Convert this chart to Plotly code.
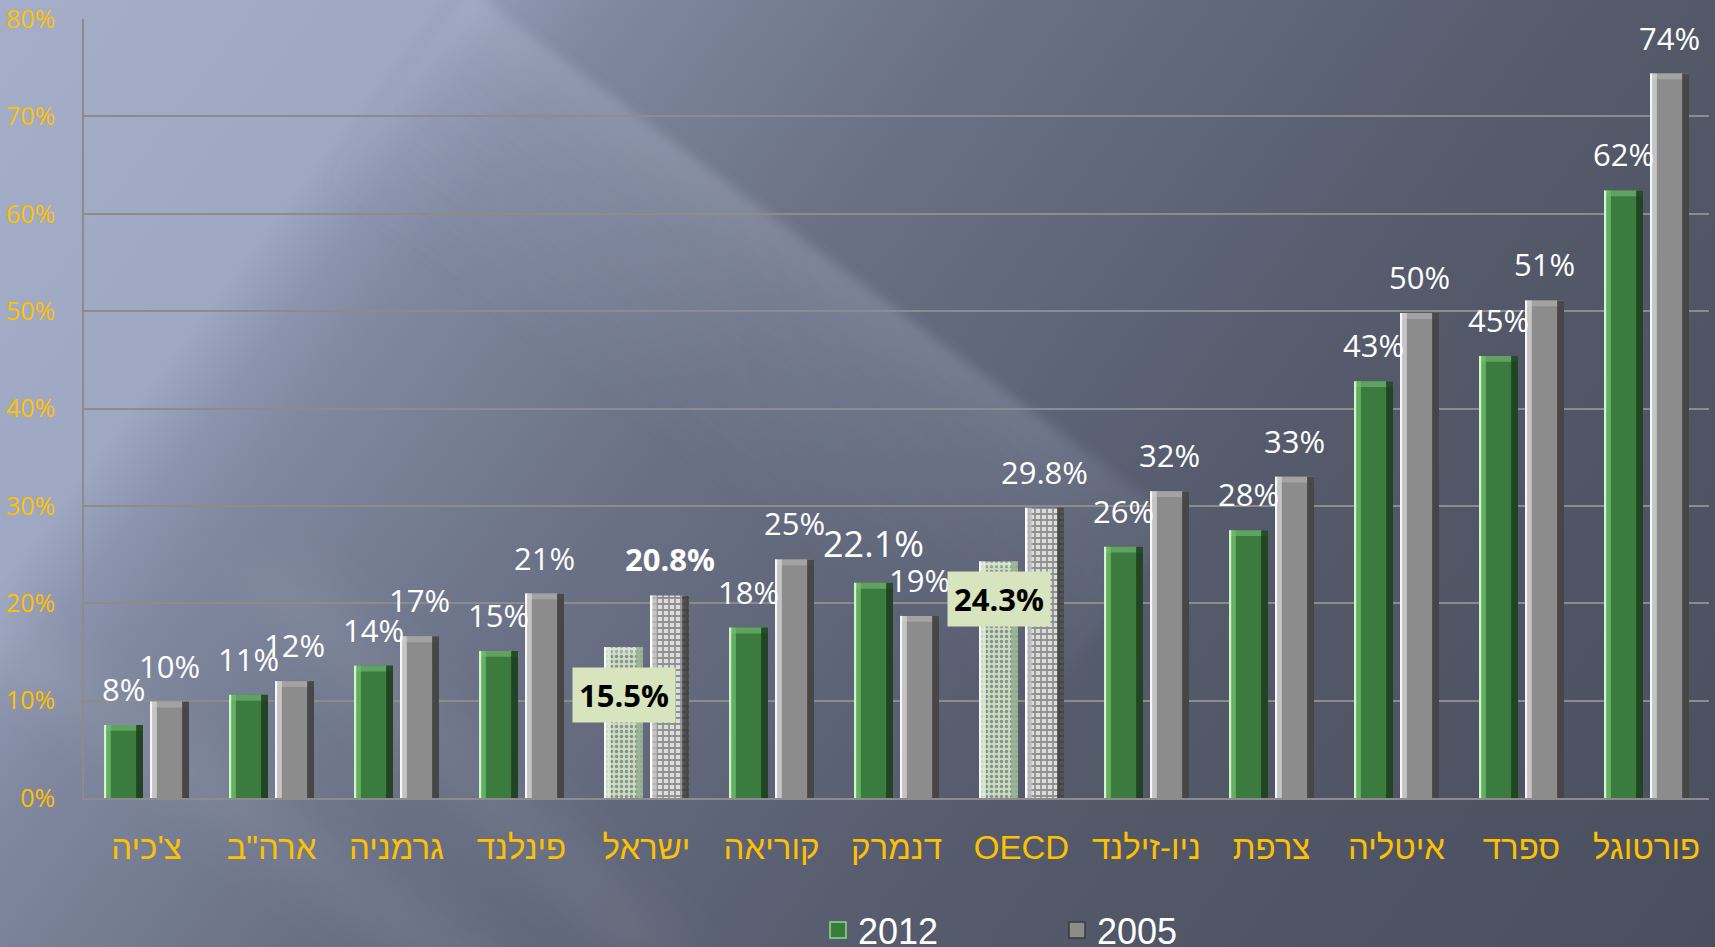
import base64
import plotly.graph_objects as go

# ---------------- data ----------------
categories = ["צ'כיה", 'ארה"ב', "גרמניה", "פינלנד", "ישראל", "קוריאה", "דנמרק",
              "OECD", "ניו-זילנד", "צרפת", "איטליה", "ספרד", "פורטוגל"]
series_names = ["2012", "2005"]
values_2012 = [7.5, 10.6, 13.6, 15.1, 15.5, 17.5, 22.1, 24.3, 25.8, 27.5, 42.8, 45.4, 62.4]
values_2005 = [9.9, 12.0, 16.6, 21.0, 20.8, 24.5, 18.7, 29.8, 31.5, 33.0, 49.8, 51.1, 74.4]
labels_2012 = ["8%", "11%", "14%", "15%", "15.5%", "18%", "22.1%", "24.3%", "26%", "28%", "43%", "45%", "62%"]
labels_2005 = ["10%", "12%", "17%", "21%", "20.8%", "25%", "19%", "29.8%", "32%", "33%", "50%", "51%", "74%"]
highlight = ["ישראל", "OECD"]
bold_2005 = ["ישראל"]
big_2012 = ["דנמרק"]
y_ticks = [0, 10, 20, 30, 40, 50, 60, 70, 80]
y_ticktext = [f"{v}%" for v in y_ticks]

# ---------------- geometry / style ----------------
W, H = 1715, 947
ML, MR, MT, MB = 84, 6, 19, 149
PW, PH = W - ML - MR, H - MT - MB
CAT_PX = PW / len(categories)
BAR_W = 0.312
OFF = {"2012": -0.34, "2005": 0.028}
BEVEL = 0.6  # top bevel height in axis units

n = len(categories)
is_hl = [c in highlight for c in categories]

styles = {
    "2012": dict(
        main=["#C9DCC3" if h else "#3B7C3E" for h in is_hl],
        fg=["#9DBB97" if h else "#3B7C3E" for h in is_hl],
        shape=["." if h else "" for h in is_hl],
        edge1=["#F4FAF2" if h else "#CFF5C8" for h in is_hl],
        edge2=["#DDEBD8" if h else "#6DBE6B" for h in is_hl],
        right=["#97AE92" if h else "#1D3C1F" for h in is_hl],
        top=["rgba(255,255,255,0.25)" if h else "#5FA261" for h in is_hl],
        psize=5, psol=0.35, legend="#3B7C3E", legend_line="#8FD98C",
    ),
    "2005": dict(
        main=["#DCDCDC" if h else "#8C8C8C" for h in is_hl],
        fg=["#2A2A2A" if h else "#8C8C8C" for h in is_hl],
        shape=["+" if h else "" for h in is_hl],
        edge1=["#FFFFFF" if h else "#F7F7F7" for h in is_hl],
        edge2=["#BFBFBF" if h else "#D2D2D2" for h in is_hl],
        right=["#3A3A3A" if h else "#3A3A3A" for h in is_hl],
        top=["rgba(0,0,0,0)" if h else "#A3A3A3" for h in is_hl],
        psize=6, psol=0.5, legend="#8C8C8C", legend_line="#3A3A3A",
    ),
}

fig = go.Figure()

for name, vals in zip(series_names, [values_2012, values_2005]):
    st = styles[name]
    off = OFF[name]
    fig.add_trace(go.Bar(
        x=categories, y=vals, name=name, offset=off, width=BAR_W, showlegend=False,
        marker=dict(color=st["main"], line=dict(width=0),
                    pattern=dict(shape=st["shape"], fgcolor=st["fg"], size=st["psize"],
                                 solidity=st["psol"], fillmode="overlay")),
        hoverinfo="skip"))
    # top bevel
    fig.add_trace(go.Bar(
        x=categories, y=[BEVEL] * n, base=[v - BEVEL for v in vals], offset=off, width=BAR_W,
        marker=dict(color=st["top"], line=dict(width=0)), showlegend=False, hoverinfo="skip"))
    # left highlights
    fig.add_trace(go.Bar(
        x=categories, y=vals, offset=off, width=0.02,
        marker=dict(color=st["edge1"], line=dict(width=0)), showlegend=False, hoverinfo="skip"))
    fig.add_trace(go.Bar(
        x=categories, y=vals, offset=off + 0.02, width=0.035,
        marker=dict(color=st["edge2"], line=dict(width=0)), opacity=0.8, showlegend=False, hoverinfo="skip"))
    # right shadow
    fig.add_trace(go.Bar(
        x=categories, y=vals, offset=off + BAR_W - 0.055, width=0.055,
        marker=dict(color=st["right"], line=dict(width=0)), opacity=0.85, showlegend=False, hoverinfo="skip"))

# legend entries (square swatches)
for name in series_names:
    st = styles[name]
    fig.add_trace(go.Scatter(
        x=[None], y=[None], mode="markers", name=name, showlegend=True, hoverinfo="skip",
        marker=dict(symbol="square", size=20, color=st["legend"],
                    line=dict(color=st["legend_line"], width=1.5))))

# ---------------- labels ----------------
annotations = []
LABEL_FONT = "Open Sans"
for i, cat in enumerate(categories):
    for name, vals, labs in [("2012", values_2012, labels_2012), ("2005", values_2005, labels_2005)]:
        xs = (OFF[name] + BAR_W / 2) * CAT_PX
        if name == "2012" and cat in highlight:
            annotations.append(dict(
                x=cat, y=vals[i], xref="x", yref="y", text=f"<b>{labs[i]}</b>",
                showarrow=False, xshift=xs, yshift=-48 if cat == "ישראל" else -38,
                yanchor="middle", bgcolor="#D7E4BD", borderpad=6,
                font=dict(family=LABEL_FONT, size=31, color="black")))
        else:
            txt = f"<b>{labs[i]}</b>" if (name == "2005" and cat in bold_2005) else labs[i]
            size = 36 if (name == "2012" and cat in big_2012) else 31
            annotations.append(dict(
                x=cat, y=vals[i], xref="x", yref="y", text=txt, showarrow=False,
                xshift=xs, yshift=13, yanchor="bottom",
                font=dict(family=LABEL_FONT, size=size, color="white")))

# ---------------- background (svg gradient) ----------------
svg = f'''<svg xmlns="http://www.w3.org/2000/svg" width="{W}" height="{H}" viewBox="0 0 {W} {H}" preserveAspectRatio="none">
<defs>
<linearGradient id="g" gradientUnits="userSpaceOnUse" x1="0" y1="0" x2="1552" y2="1164">
<stop offset="0" stop-color="#A4AEC9"/>
<stop offset="0.18" stop-color="#9EA8C3"/>
<stop offset="0.215" stop-color="#8C95AD"/>
<stop offset="0.255" stop-color="#7F889F"/>
<stop offset="0.41" stop-color="#6A7186"/>
<stop offset="0.62" stop-color="#585E70"/>
<stop offset="0.70" stop-color="#535969"/>
<stop offset="1" stop-color="#4A4F5F"/>
</linearGradient>
<linearGradient id="s1" gradientUnits="userSpaceOnUse" x1="810" y1="245" x2="660" y2="445">
<stop offset="0" stop-color="#C8D0E8" stop-opacity="0.24"/>
<stop offset="0.25" stop-color="#C8D0E8" stop-opacity="0.14"/>
<stop offset="1" stop-color="#C8D0E8" stop-opacity="0"/>
</linearGradient>
<linearGradient id="s2" gradientUnits="userSpaceOnUse" x1="700" y1="0" x2="1250" y2="0">
<stop offset="0" stop-color="white" stop-opacity="1"/>
<stop offset="0.6" stop-color="white" stop-opacity="0.8"/>
<stop offset="1" stop-color="white" stop-opacity="0"/>
</linearGradient>
<mask id="m"><rect width="{W}" height="{H}" fill="url(#s2)"/></mask>
<filter id="b1" x="-20%" y="-20%" width="140%" height="140%"><feGaussianBlur stdDeviation="6"/></filter>
<filter id="b2" x="-20%" y="-20%" width="140%" height="140%"><feGaussianBlur stdDeviation="22"/></filter>
</defs>
<rect width="{W}" height="{H}" fill="url(#g)"/>
<g mask="url(#m)"><polygon points="470,-10 1180,522 1030,722 320,190" fill="url(#s1)" filter="url(#b1)"/></g>
<polygon points="-60,560 560,1000 470,1000 -120,600" fill="white" fill-opacity="0.06" filter="url(#b2)"/>
<polygon points="300,560 700,960 620,960 230,580" fill="white" fill-opacity="0.06" filter="url(#b2)"/>
</svg>'''
bg_src = "data:image/svg+xml;base64," + base64.b64encode(svg.encode("utf-8")).decode("ascii")

fig.update_layout(
    width=W, height=H,
    margin=dict(l=ML, r=MR, t=MT, b=MB, autoexpand=False),
    paper_bgcolor="#5A6072",
    plot_bgcolor="rgba(0,0,0,0)",
    barmode="overlay",
    showlegend=True,
    annotations=annotations,
    images=[dict(source=bg_src, xref="paper", yref="paper",
                 x=-ML / PW, y=(PH + MT) / PH, sizex=W / PW, sizey=H / PH,
                 xanchor="left", yanchor="top", sizing="stretch", layer="below")],
    xaxis=dict(type="category", range=[-0.5, n - 0.5], showgrid=False,
               showline=True, linecolor="#8C8C8C", linewidth=1.5,
               ticks="outside", ticklen=20, tickcolor="rgba(0,0,0,0)",
               tickfont=dict(family="Liberation Sans", size=33, color="#FFC000")),
    yaxis=dict(range=[0, 80], tickvals=y_ticks, ticktext=y_ticktext,
               showgrid=True, gridcolor="#8C8C8C", gridwidth=1.5,
               showline=True, linecolor="#8C8C8C", linewidth=1.5, zeroline=False,
               ticks="outside", ticklen=22, tickcolor="rgba(0,0,0,0)",
               tickfont=dict(family="Open Sans", size=25, color="#FFC000")),
    legend=dict(orientation="h", x=(818 - ML) / PW, xanchor="left", y=(MT + PH - 930) / PH,
                yanchor="middle", bgcolor="rgba(0,0,0,0)", entrywidth=194, entrywidthmode="pixels",
                font=dict(family="Liberation Sans", size=36, color="white")),
)

fig.write_html("out.html", config={"displayModeBar": False},
               post_script="document.body.style.margin='0';")
